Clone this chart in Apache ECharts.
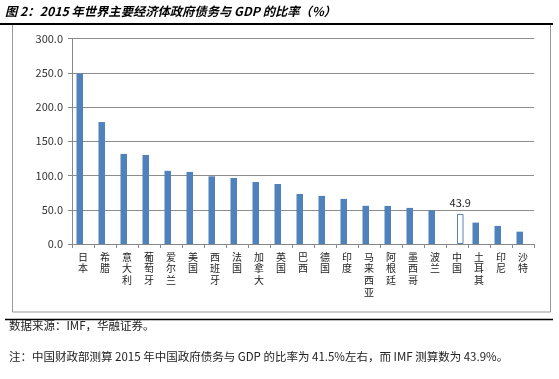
<!DOCTYPE html>
<html><head><meta charset="utf-8">
<script src="https://cdn.jsdelivr.net/npm/echarts@6/dist/echarts.min.js"></script>
<style>html,body{margin:0;padding:0;background:#fff}#c{width:559px;height:379px}</style>
</head><body><div id="c"></div>
<script>
const categories = ['日本','希腊','意大利','葡萄牙','爱尔兰','美国','西班牙','法国','加拿大','英国','巴西','德国','印度','马来西亚','阿根廷','墨西哥','波兰','中国','土耳其','印尼','沙特'];
const debtValues = [249, 178, 131.5, 130, 106.8, 105.2, 98.8, 96.4, 90.5, 87.6, 73, 70.2, 65.8, 55.8, 55.6, 52.7, 49.3, null, 31.2, 26.4, 18];
const chinaValues = [null,null,null,null,null,null,null,null,null,null,null,null,null,null,null,null,null,43.9,null,null,null];
const yTicks = [0, 50, 100, 150, 200, 250, 300];
const titleText = '图 2：2015 年世界主要经济体政府债务与 GDP 的比率（%）';
const sourceText = '数据来源：IMF，华融证券。';
const noteText = '注：中国财政部测算 2015 年中国政府债务与 GDP 的比率为 41.5%左右，而 IMF 测算数为 43.9%。';

const chart = echarts.init(document.getElementById('c'), null, {renderer:'canvas'});
const font = '"Noto Sans CJK SC", "DejaVu Sans", sans-serif';
chart.setOption({
  animation:false,
  backgroundColor:'#fff',
  textStyle:{fontFamily:font},
  grid:{left:72, right:25, top:38.5, bottom:135, containLabel:false},
  xAxis:{type:'category', data:categories,
    axisLine:{lineStyle:{color:'#888'}},
    axisTick:{show:true, length:4, lineStyle:{color:'#888'}, alignWithLabel:false},
    axisLabel:{interval:0, margin:7, color:'#222', fontSize:10, lineHeight:11.7, verticalAlign:'top',
      formatter:v=>v.split('').join('\n')}
  },
  yAxis:{type:'value', min:yTicks[0], max:yTicks[yTicks.length-1], interval:50,
    axisLine:{show:true, lineStyle:{color:'#888'}},
    axisTick:{show:true, length:4, lineStyle:{color:'#888'}},
    splitLine:{lineStyle:{color:'#8c8c8c', width:1}},
    axisLabel:{color:'#333', fontSize:11, margin:9, formatter:v=>v.toFixed(1)}
  },
  series:[
    {type:'bar', data:debtValues, barWidth:6.5, barGap:'0%', itemStyle:{color:'#4F81BD'}},
    {type:'bar', data:chinaValues, barWidth:6.5, barGap:'0%',
      itemStyle:{color:'#fff', borderColor:'#4F81BD', borderWidth:1},
      label:{show:true, position:'top', distance:6, color:'#222', fontSize:11, formatter:p=>p.value.toFixed(1)}}
  ],
  graphic:[
    {type:'text', left:5, top:5, style:{text:titleText, font:'italic bold 12.3px '+font, fill:'#000'}},
    {type:'line', shape:{x1:0, y1:24, x2:553, y2:24}, style:{stroke:'#000', lineWidth:2}},
    {type:'rect', shape:{x:12.5, y:24, width:538, height:288}, style:{fill:null, stroke:'#999', lineWidth:1}, z:-1},
    {type:'line', shape:{x1:5, y1:319.5, x2:553, y2:319.5}, style:{stroke:'#000', lineWidth:1.5}},
    {type:'text', left:9, top:320, style:{text:sourceText, font:'11.5px '+font, fill:'#222'}},
    {type:'text', left:9, top:351, style:{text:noteText, font:'11.5px '+font, fill:'#222'}}
  ]
});
</script></body></html>
